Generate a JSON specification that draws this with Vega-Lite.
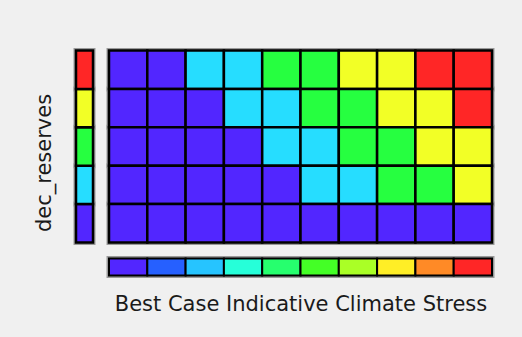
{
  "$schema": "https://vega.github.io/schema/vega-lite/v6.json",
  "background": "#f0f0f0",
  "padding": {"left": 33, "top": 47.5, "right": 30, "bottom": 26.5},
  "config": {
    "view": {"stroke": null},
    "font": "DejaVu Sans",
    "axis": {
      "titleFont": "DejaVu Sans",
      "titleFontSize": 21,
      "titleFontWeight": "normal",
      "titleColor": "#1a1a1a"
    }
  },
  "datasets": {
    "cells": [
      {"stress": 1, "reserves": 5, "level": 1}, {"stress": 2, "reserves": 5, "level": 1},
      {"stress": 3, "reserves": 5, "level": 2}, {"stress": 4, "reserves": 5, "level": 2},
      {"stress": 5, "reserves": 5, "level": 3}, {"stress": 6, "reserves": 5, "level": 3},
      {"stress": 7, "reserves": 5, "level": 4}, {"stress": 8, "reserves": 5, "level": 4},
      {"stress": 9, "reserves": 5, "level": 5}, {"stress": 10, "reserves": 5, "level": 5},
      {"stress": 1, "reserves": 4, "level": 1}, {"stress": 2, "reserves": 4, "level": 1},
      {"stress": 3, "reserves": 4, "level": 1}, {"stress": 4, "reserves": 4, "level": 2},
      {"stress": 5, "reserves": 4, "level": 2}, {"stress": 6, "reserves": 4, "level": 3},
      {"stress": 7, "reserves": 4, "level": 3}, {"stress": 8, "reserves": 4, "level": 4},
      {"stress": 9, "reserves": 4, "level": 4}, {"stress": 10, "reserves": 4, "level": 5},
      {"stress": 1, "reserves": 3, "level": 1}, {"stress": 2, "reserves": 3, "level": 1},
      {"stress": 3, "reserves": 3, "level": 1}, {"stress": 4, "reserves": 3, "level": 1},
      {"stress": 5, "reserves": 3, "level": 2}, {"stress": 6, "reserves": 3, "level": 2},
      {"stress": 7, "reserves": 3, "level": 3}, {"stress": 8, "reserves": 3, "level": 3},
      {"stress": 9, "reserves": 3, "level": 4}, {"stress": 10, "reserves": 3, "level": 4},
      {"stress": 1, "reserves": 2, "level": 1}, {"stress": 2, "reserves": 2, "level": 1},
      {"stress": 3, "reserves": 2, "level": 1}, {"stress": 4, "reserves": 2, "level": 1},
      {"stress": 5, "reserves": 2, "level": 1}, {"stress": 6, "reserves": 2, "level": 2},
      {"stress": 7, "reserves": 2, "level": 2}, {"stress": 8, "reserves": 2, "level": 3},
      {"stress": 9, "reserves": 2, "level": 3}, {"stress": 10, "reserves": 2, "level": 4},
      {"stress": 1, "reserves": 1, "level": 1}, {"stress": 2, "reserves": 1, "level": 1},
      {"stress": 3, "reserves": 1, "level": 1}, {"stress": 4, "reserves": 1, "level": 1},
      {"stress": 5, "reserves": 1, "level": 1}, {"stress": 6, "reserves": 1, "level": 1},
      {"stress": 7, "reserves": 1, "level": 1}, {"stress": 8, "reserves": 1, "level": 1},
      {"stress": 9, "reserves": 1, "level": 1}, {"stress": 10, "reserves": 1, "level": 1}
    ],
    "reserveLevels": [
      {"reserves": 1}, {"reserves": 2}, {"reserves": 3}, {"reserves": 4}, {"reserves": 5}
    ],
    "stressLevels": [
      {"stress": 1}, {"stress": 2}, {"stress": 3}, {"stress": 4}, {"stress": 5},
      {"stress": 6}, {"stress": 7}, {"stress": 8}, {"stress": 9}, {"stress": 10}
    ]
  },
  "resolve": {"scale": {"color": "independent"}},
  "spacing": 10,
  "hconcat": [
    {
      "width": 17,
      "height": 192,
      "data": {"name": "reserveLevels"},
      "layer": [
        {
          "mark": {"type": "rect", "fill": null, "stroke": "#9a9a9a", "strokeWidth": 5},
          "encoding": {
            "y": {"field": "reserves", "type": "ordinal", "sort": "descending",
                  "axis": {"title": "dec_reserves", "labels": false, "ticks": false, "domain": false, "titlePadding": 22, "titleY": 112}}
          }
        },
        {
          "mark": {"type": "rect", "stroke": "#000000", "strokeWidth": 2.5},
          "encoding": {
            "y": {"field": "reserves", "type": "ordinal", "sort": "descending"},
            "color": {"field": "reserves", "type": "ordinal", "legend": null,
                      "scale": {"domain": [1, 2, 3, 4, 5], "range": ["#5226ff", "#26ddff", "#26ff40", "#f2ff26", "#ff2626"]}}
          }
        }
      ]
    },
    {
      "spacing": 10,
      "resolve": {"scale": {"color": "independent"}},
      "vconcat": [
        {
          "width": 383,
          "height": 192,
          "data": {"name": "cells"},
          "layer": [
            {
              "mark": {"type": "rect", "fill": null, "stroke": "#9a9a9a", "strokeWidth": 5},
              "encoding": {
                "x": {"field": "stress", "type": "ordinal", "axis": null},
                "y": {"field": "reserves", "type": "ordinal", "sort": "descending", "axis": null}
              }
            },
            {
              "mark": {"type": "rect", "stroke": "#000000", "strokeWidth": 2.5},
              "encoding": {
                "x": {"field": "stress", "type": "ordinal", "axis": null},
                "y": {"field": "reserves", "type": "ordinal", "sort": "descending", "axis": null},
                "color": {"field": "level", "type": "ordinal", "legend": null,
                          "scale": {"domain": [1, 2, 3, 4, 5], "range": ["#5226ff", "#26ddff", "#26ff40", "#f2ff26", "#ff2626"]}}
              }
            }
          ]
        },
        {
          "width": 383,
          "height": 17,
          "data": {"name": "stressLevels"},
          "layer": [
            {
              "mark": {"type": "rect", "fill": null, "stroke": "#9a9a9a", "strokeWidth": 5},
              "encoding": {
                "x": {"field": "stress", "type": "ordinal",
                      "axis": {"title": "Best Case Indicative Climate Stress", "labels": false, "ticks": false, "domain": false, "titlePadding": 17.5}}
              }
            },
            {
              "mark": {"type": "rect", "stroke": "#000000", "strokeWidth": 2},
              "encoding": {
                "x": {"field": "stress", "type": "ordinal"},
                "color": {"field": "stress", "type": "ordinal", "legend": null,
                          "scale": {"domain": [1, 2, 3, 4, 5, 6, 7, 8, 9, 10],
                                    "range": ["#5226ff", "#2660ff", "#26c4ff", "#26ffd9", "#26ff6e", "#44ff26", "#aaff26", "#ffee26", "#ff8a26", "#ff2626"]}}
              }
            }
          ]
        }
      ]
    }
  ]
}
